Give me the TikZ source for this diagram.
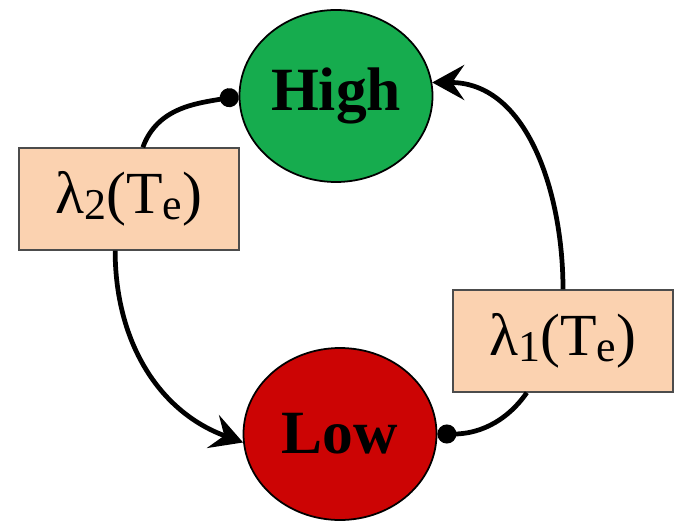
\documentclass[tikz,border=0pt]{standalone}
\usepackage{fontspec}
\setmainfont{Liberation Serif}
\usetikzlibrary{arrows.meta,shapes.geometric}
\definecolor{highgreen}{RGB}{22, 172, 78}
\definecolor{lowred}{RGB}{204, 4, 4}
\definecolor{ratepeach}{RGB}{251, 210, 176}
\newcommand{\ratesub}[1]{\raisebox{-0.22ex}{\fontsize{25}{25}\selectfont #1}}

\begin{document}
\begin{tikzpicture}[
    state/.style={draw, ellipse, line width=1pt, minimum width=3.86cm, minimum height=3.44cm, inner sep=0pt, font=\fontsize{35}{36}\selectfont\bfseries},
    rate/.style={draw=black!70, line width=0.8pt, fill=ratepeach, minimum width=4.4cm, minimum height=2.04cm, font=\fontsize{34}{35}\selectfont},
    link/.style={line width=2.7pt},
    tip/.style={-{Stealth[length=6.4mm, width=7mm, inset=2.4mm]}},
    dot/.style={{Circle[length=3.8mm]}-}
]
    \useasboundingbox (0,0) rectangle (13.58,-10.46);

    % States
    \node[state, fill=highgreen] (high) at (6.72,-1.92) {High};
    \node[state, fill=lowred] (low) at (6.80,-8.68) {Low};

    % Rates
    \node[rate] (lam2) at (2.58,-3.98) {λ\ratesub{2}(T\ratesub{e})};
    \node[rate] (lam1) at (11.26,-6.82) {λ\ratesub{1}(T\ratesub{e})};

    % High to Low
    \draw[link, dot] (high.west) to[out=190, in=70] (lam2.75);
    \draw[link, tip] (lam2.-105) to[out=-90, in=160] (low.185);
    % Low to High
    \draw[link, dot] (low.east) to[out=0, in=-125] (lam1.235);
    \draw[link, tip] (lam1.north) to[out=90, in=0] (high.8);
\end{tikzpicture}
\end{document}
